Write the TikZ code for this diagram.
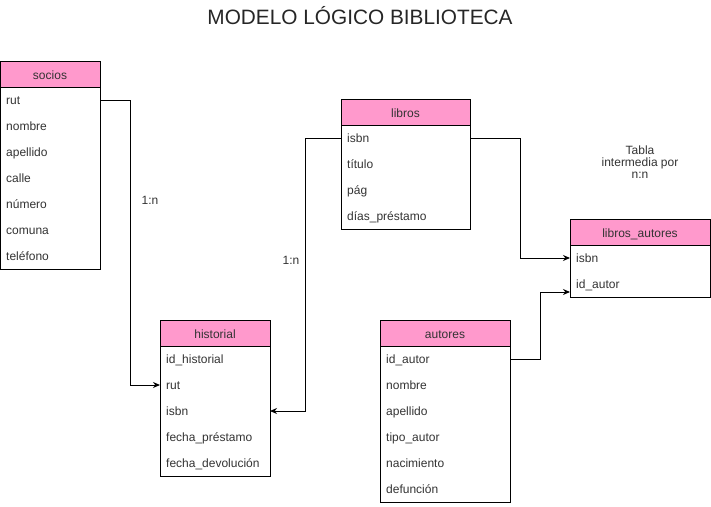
\documentclass[tikz,border=0pt]{standalone}
\usepackage{fontspec}
\setmainfont{Liberation Sans}
\usetikzlibrary{arrows.meta,calc}
\definecolor{hdrpink}{HTML}{FF99CC}
\definecolor{txtgray}{HTML}{333333}
\tikzset{
  hdr/.style={draw, fill=hdrpink, line width=1pt, inner sep=0pt, outer sep=0pt,
    minimum height=26pt, text height=11pt, text depth=0pt, font=\fontsize{12}{14}\selectfont, text=txtgray},
  rowtxt/.style={anchor=west, inner sep=0pt, text height=9pt, text depth=3pt,
    font=\fontsize{12}{14}\selectfont, text=txtgray},
  body/.style={draw, line width=1pt},
  conn/.style={line width=1pt, -{Stealth[length=7pt,width=6pt]}},
  lbl/.style={font=\fontsize{12}{14}\selectfont, text=txtgray, align=center, inner sep=0pt}
}
\newcommand\ertab[7]{% name, x, y, w, title, n, rows
  \node[hdr, minimum width=#4pt, anchor=north west] (#1) at (#2,#3) {#5};
  \draw[body] (#1.south west) rectangle ($(#1.south east)+(0,{26*#6})$);
  \foreach \t [count=\i] in {#7} {
    \node[rowtxt] (#1-\i) at ($(#1.south west)+(6,{14+26*(\i-1)})$) {\t};
  }
}
\begin{document}
\begin{tikzpicture}[x=1pt,y=-1pt]
\useasboundingbox (0,0) rectangle (711,506);
\node[font=\fontsize{20.8}{24}\selectfont, text=black!85] (title) at (360,16) {MODELO LÓGICO BIBLIOTECA};
\ertab{socios}{0}{61}{100}{socios}{7}{rut,nombre,apellido,calle,número,comuna,teléfono}
\ertab{libros}{341}{99}{129}{libros}{4}{isbn,título,pág,días\_préstamo}
\ertab{la}{570}{219}{140}{libros\_autores}{2}{isbn,id\_autor}
\ertab{historial}{160}{320}{110}{historial}{5}{id\_historial,rut,isbn,fecha\_préstamo,fecha\_devolución}
\ertab{autores}{380}{320}{130}{autores}{6}{id\_autor,nombre,apellido,tipo\_autor,nacimiento,defunción}
\draw[conn] ($(socios-1 -| socios.east)+(0,-1)$) -- ++(30.5,0) |- ($(historial-2 -| historial.west)+(0,-1)$);
\draw[conn] ($(libros-1 -| libros.west)+(0,-1)$) -- ++(-35.5,0) |- ($(historial-3 -| historial.east)+(0,-1)$);
\draw[conn] ($(libros-1 -| libros.east)+(0,-1)$) -- ++(50.5,0) |- ($(la-1 -| la.west)+(0,-1)$);
\draw[conn] ($(autores-1 -| autores.east)+(0,-1)$) -- ++(30.5,0) |- ($(la-2 -| la.west)+(0,7)$);
\node[lbl] (l1) at (150,200) {1:n};
\node[lbl] (l2) at (291,260) {1:n};
\node[lbl, font=\fontsize{12}{12}\selectfont] (l3) at (640,162) {Tabla\\intermedia por\\n:n};
\end{tikzpicture}
\end{document}
